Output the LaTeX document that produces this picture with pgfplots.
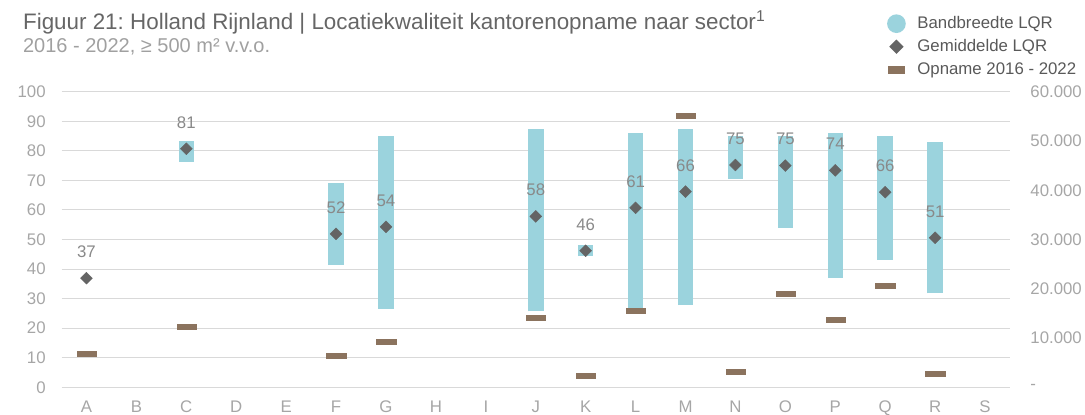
\documentclass[border=0pt]{standalone}
\usepackage{pgfplots}
\pgfplotsset{compat=1.18}
\usepackage{fontspec}
\setmainfont{Liberation Sans}
\frenchspacing
\definecolor{band}{RGB}{155,211,221}
\definecolor{gem}{RGB}{100,100,100}
\definecolor{opn}{RGB}{139,115,94}
\definecolor{gridc}{RGB}{217,217,217}
\definecolor{ticktxt}{RGB}{166,166,166}
\definecolor{lbl}{RGB}{137,137,137}
\definecolor{titel}{RGB}{102,102,102}
\definecolor{subt}{RGB}{160,160,160}
\definecolor{legtxt}{RGB}{89,89,89}
\newcommand{\fs}{\fontsize{8.4}{9.5}\selectfont}

\begin{document}
\begin{tikzpicture}
\useasboundingbox (0pt,0pt) rectangle (542.5pt,-207.5pt);
\node[anchor=base west, inner sep=0, text=titel, font=\fontsize{11.2}{13}\selectfont]
  at (11.35pt,-14.9pt) {Figuur 21: Holland Rijnland | Locatiekwaliteit kantorenopname naar sector\textsuperscript{1}};
\node[anchor=base west, inner sep=0, text=subt, font=\fontsize{10}{12}\selectfont]
  at (11.35pt,-26.5pt) {2016 - 2022, ≥ 500 m² v.v.o.};

% left axis: bandwidth and average
\begin{axis}[
  at={(30.75pt,-193.65pt)}, anchor=south west,
  width=474.25pt, height=147.8pt, scale only axis,
  xmin=-0.5, xmax=18.5, ymin=0, ymax=100,
  clip=false,
  axis line style={draw=none},
  major tick length=0pt,
  ytick={0,10,...,100},
  ymajorgrids, grid style={gridc, line width=0.5pt},
  xtick={0,...,18},
  xticklabels={A,B,C,D,E,F,G,H,I,J,K,L,M,N,O,P,Q,R,S},
  xticklabel style={anchor=base, inner sep=0pt, yshift=-12.85pt, font=\fs, text=ticktxt},
  yticklabel style={anchor=east, inner sep=0pt, xshift=-7.75pt, font=\fs, text=ticktxt},
  /pgf/number format/assume math mode=true,
  legend cell align=left,
  legend style={at={(axis description cs:0.870,1.2568)}, anchor=north west,
    draw=none, fill=none, inner sep=0pt, row sep=4pt, column sep=5.8pt,
    nodes={inner sep=0pt, text=legtxt, font=\fs, text height=6pt, text depth=1.5pt}},
]
\addplot[band, line width=7.75pt, mark=none, unbounded coords=jump,
  legend image code/.code={
    \fill[band, draw=none, line width=0pt, overlay] (4.67pt,0pt) circle (4.67pt);
    \path[draw=none, fill=none] (0pt,-3.75pt) rectangle (9.35pt,3.75pt);}]
  coordinates {
  (2,76.3) (2,83.2) (2,nan)
  (5,41.3) (5,69.0) (5,nan)
  (6,26.5) (6,85.0) (6,nan)
  (9,25.7) (9,87.3) (9,nan)
  (10,44.4) (10,48.0) (10,nan)
  (11,26.7) (11,85.9) (11,nan)
  (12,27.8) (12,87.3) (12,nan)
  (13,70.4) (13,85.0) (13,nan)
  (14,54.0) (14,85.0) (14,nan)
  (15,36.9) (15,85.9) (15,nan)
  (16,43.2) (16,85.0) (16,nan)
  (17,31.8) (17,83.1)
  };
\addlegendentry{Bandbreedte LQR}
\addplot[only marks, mark=square*, mark size=2.1pt,
  mark options={rotate=45, fill=gem, draw=gem, line width=0.2pt},
  point meta=explicit symbolic,
  nodes near coords={\pgfplotspointmeta},
  nodes near coords style={font=\fs, text=lbl, anchor=base, inner sep=0pt, yshift=10.3pt},
  legend image code/.code={
    \fill[gem, draw=none, line width=0pt, overlay] (4.67pt,3.58pt) -- (8.25pt,0pt) -- (4.67pt,-3.58pt) -- (1.09pt,0pt) -- cycle;
    \path[draw=none, fill=none] (0pt,-3.75pt) rectangle (9.35pt,3.75pt);}]
  coordinates {
  (0,36.9) [37]
  (2,80.7) [81]
  (5,51.9) [52]
  (6,54.3) [54]
  (9,57.8) [58]
  (10,46.2) [46]
  (11,60.7) [61]
  (12,66.2) [66]
  (13,75.2) [75]
  (14,75.0) [75]
  (15,73.4) [74]
  (16,66.0) [66]
  (17,50.6) [51]
  };
\addlegendentry{Gemiddelde LQR}
\addlegendimage{legend image code/.code={
    \fill[opn, draw=none, line width=0pt, overlay] (0.25pt,-1.92pt) rectangle (9.1pt,1.92pt);
    \path[draw=none, fill=none] (0pt,-3.75pt) rectangle (9.35pt,3.75pt);}}
\addlegendentry{Opname 2016 - 2022}
\end{axis}

% right axis: take-up
\begin{axis}[
  at={(30.75pt,-193.65pt)}, anchor=south west,
  width=474.25pt, height=147.8pt, scale only axis,
  xmin=-0.5, xmax=18.5, ymin=0, ymax=60000,
  clip=false,
  axis x line=none, axis y line*=right,
  axis line style={draw=none},
  major tick length=0pt,
  ytick={0,10000,...,60000},
  yticklabels={-,10.000,20.000,30.000,40.000,50.000,60.000},
  scaled y ticks=false,
  yticklabel style={anchor=west, inner sep=0pt, xshift=10pt, font=\fs, text=ticktxt},
]
\addplot[only marks, mark=square*, mark size=1.25pt,
  mark options={xscale=3.86, fill=opn, draw=opn, line width=0.1pt}]
  coordinates {
  (0,6760) (2,12240) (5,6350) (6,9200) (9,14200) (10,2300) (11,15600)
  (12,55100) (13,3250) (14,18950) (15,13650) (16,20550) (17,2760)
  };
\end{axis}
\end{tikzpicture}
\end{document}
